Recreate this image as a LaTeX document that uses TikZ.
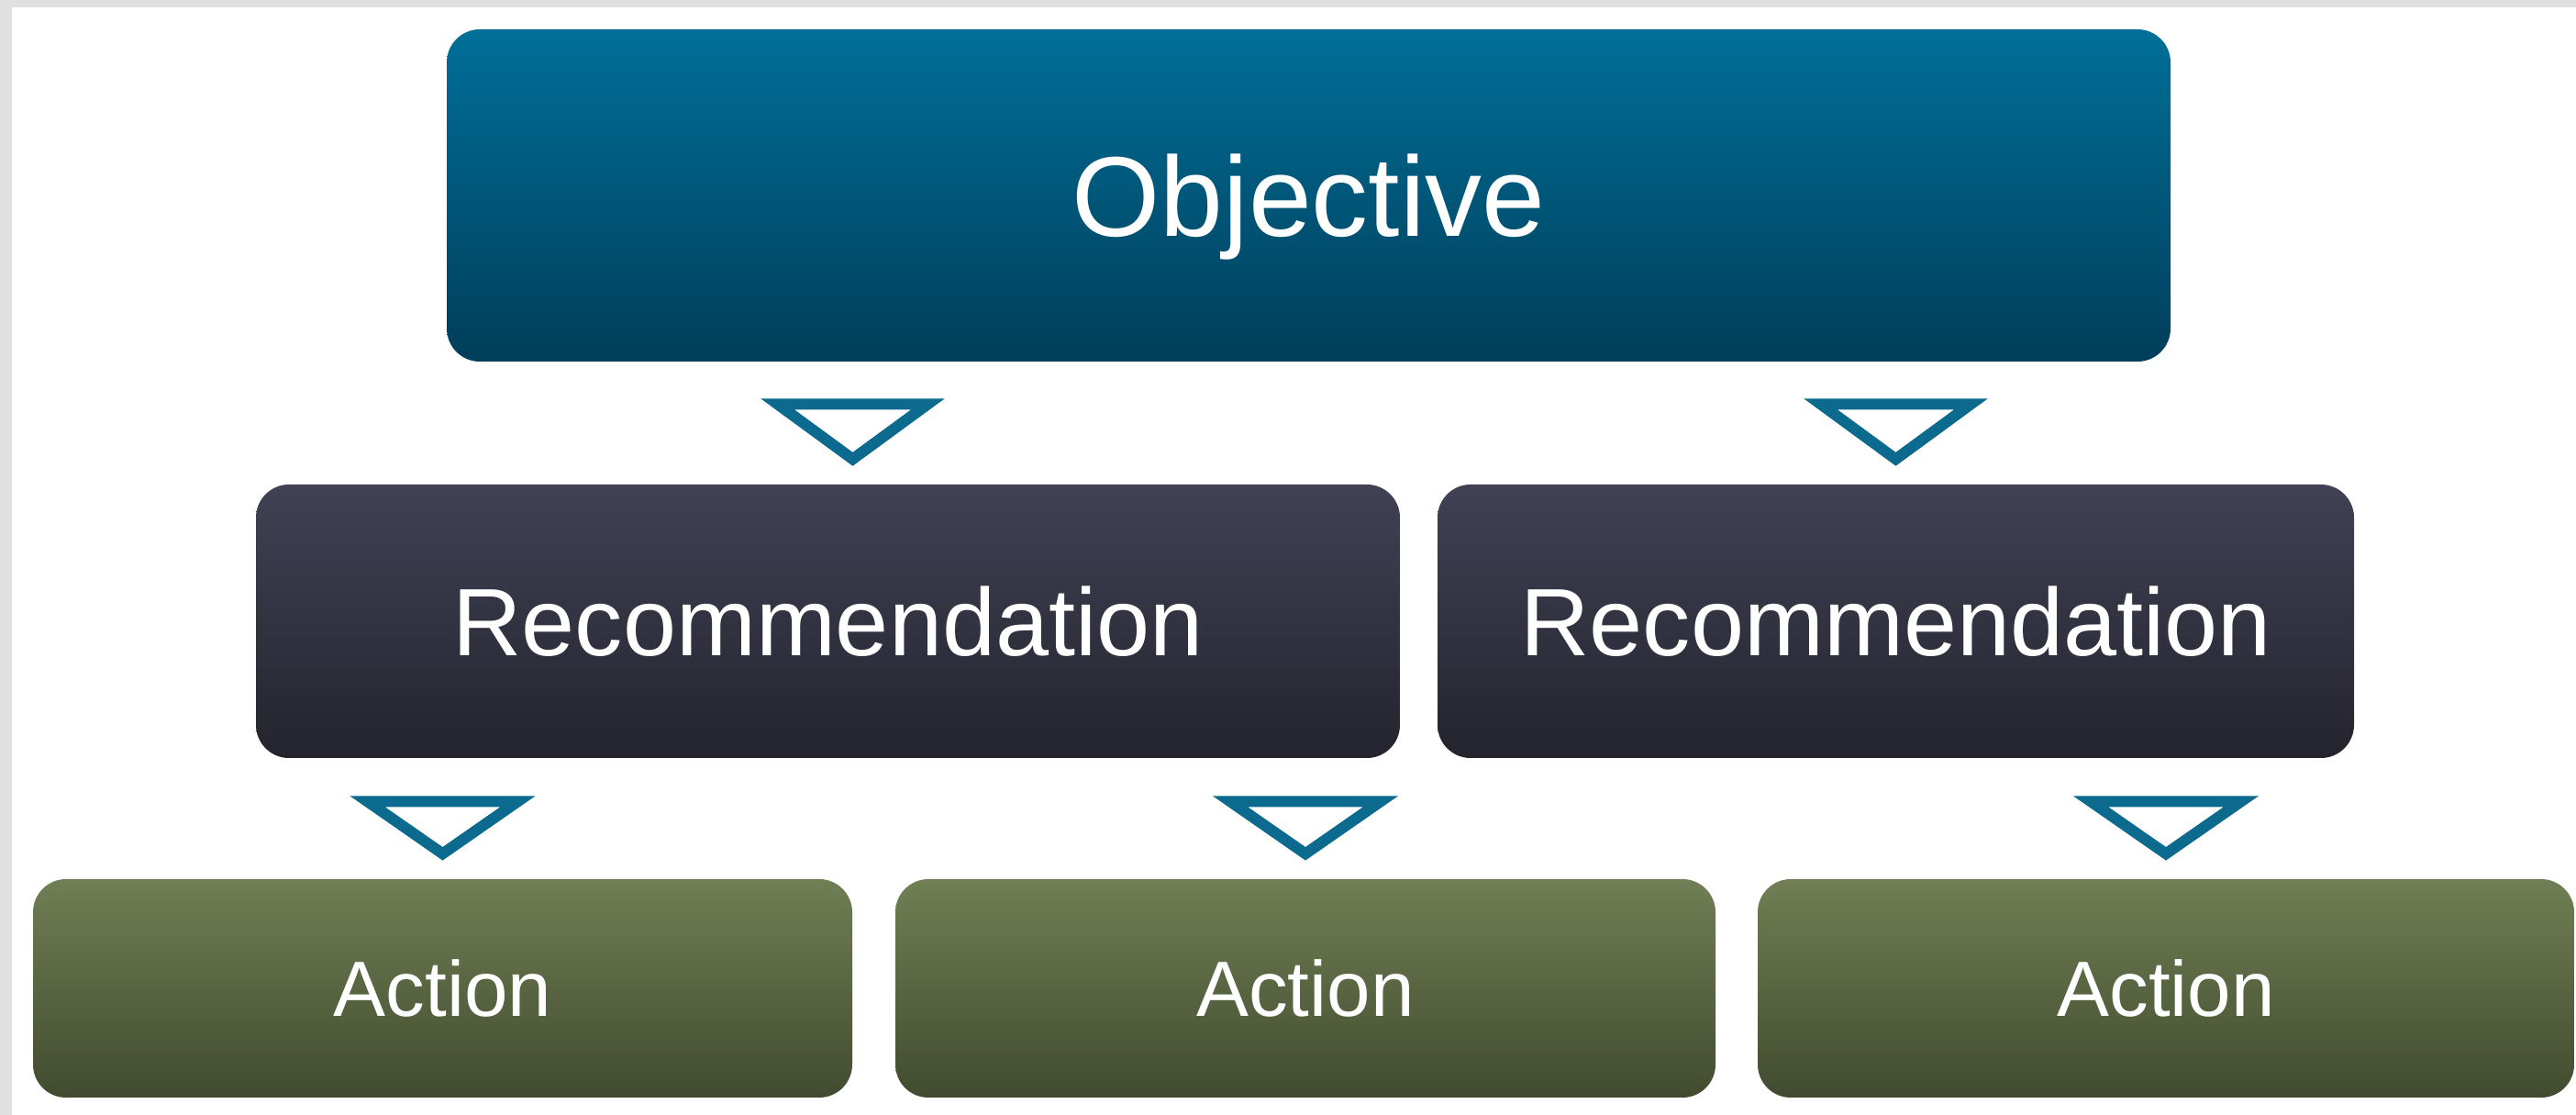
\documentclass[tikz,border=0pt]{standalone}
\usepackage{fontspec}
\setmainfont{Liberation Sans}
\usetikzlibrary{calc}

\definecolor{objtop}{RGB}{0,111,152}
\definecolor{objbot}{RGB}{0,62,90}
\definecolor{rectop}{RGB}{64,65,84}
\definecolor{recbot}{RGB}{36,36,46}
\definecolor{acttop}{RGB}{112,127,84}
\definecolor{actbot}{RGB}{66,75,47}
\definecolor{tricol}{RGB}{12,106,142}
\definecolor{framegrey}{RGB}{224,224,224}

\tikzstyle{box}=[rounded corners=0.36cm, inner sep=0pt, text depth=0pt, text=white]
\tikzstyle{objective box} = [box, minimum width=18.79cm, minimum height=3.62cm, top color=objtop, bottom color=objbot, font=\fontsize{35.2}{42}\selectfont]
\tikzstyle{recommendation box} = [box, minimum height=2.98cm, top color=rectop, bottom color=recbot, font=\fontsize{29.7}{36}\selectfont]
\tikzstyle{action box} = [box, minimum height=2.38cm, top color=acttop, bottom color=actbot, font=\fontsize{24.3}{29}\selectfont]
\tikzstyle{down marker} = [draw=tricol, line width=0.12cm, line join=miter, fill=white]

\begin{document}
\begin{tikzpicture}
    % Frame
    \useasboundingbox (0,0) rectangle (28.08,12.15);
    \fill[white] (0,0) rectangle (28.08,12.15);
    \fill[framegrey] (0,0) rectangle (0.13,12.15);
    \fill[framegrey] (0,12.07) rectangle (28.08,12.15);
    % Boxes
    \node[objective box] (obj) at (14.265,10.02) {Objective};
    \foreach \pos/\name/\boxw in {{(9.025,5.38)/rec1/12.47},{(20.665,5.38)/rec2/9.99}}
    \node[recommendation box, minimum width=\boxw cm] (\name) at \pos {Recommendation};
    \foreach \pos/\name/\boxw in {{(4.825,1.38)/act1/8.93},{(14.23,1.38)/act2/8.94},{(23.61,1.38)/act3/8.90}}
    \node[action box, minimum width=\boxw cm] (\name) at \pos {Action};
    % Markers above each child box
    \foreach \child/\dx/\gap in {rec1/0.27/0.87, rec2/0/0.87, act1/0/0.84, act2/0/0.84, act3/0/0.84}
    \draw[down marker] ($(\child.north)+(\dx-0.82,\gap)$) -- ($(\child.north)+(\dx+0.82,\gap)$)
        -- ($(\child.north)+(\dx,0.27)$) -- cycle;
\end{tikzpicture}
\end{document}
